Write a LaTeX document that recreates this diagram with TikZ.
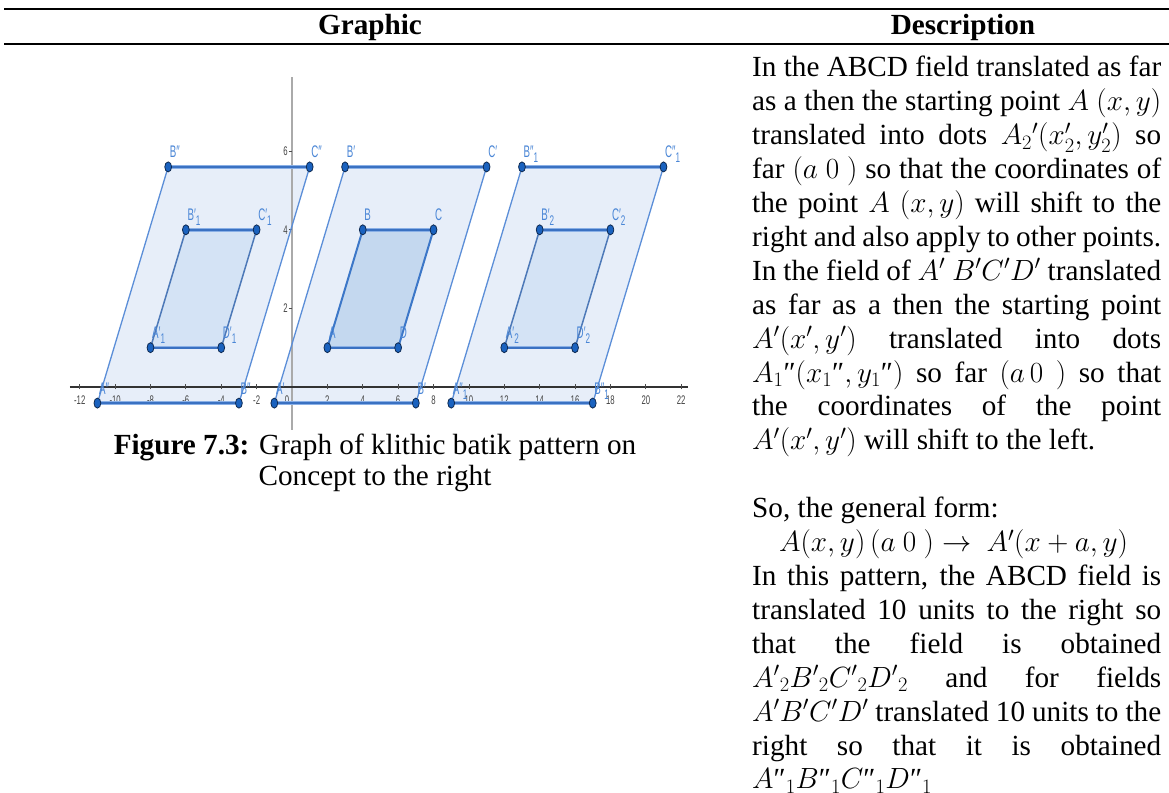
\RequirePackage{fix-cm}
\documentclass[tikz,border=0pt]{standalone}
\usepackage{fontspec}
\setmainfont{Liberation Serif}
\newfontfamily\gsans{Liberation Sans}
\usepackage{graphicx}
\definecolor{bigfill}{HTML}{E7EEF9}
\definecolor{smallfill}{HTML}{D4E3F5}
\definecolor{basefill}{HTML}{C4D8EF}
\definecolor{edgecol}{HTML}{5B8ED8}
\definecolor{edgedark}{HTML}{3C77C8}
\definecolor{segout}{HTML}{8AB0E6}
\definecolor{segin}{HTML}{3A71C2}
\definecolor{dotfill}{HTML}{1A62BF}
\definecolor{dotline}{HTML}{0E2A52}
\definecolor{lblcol}{HTML}{4A86D6}
\definecolor{axisgray}{HTML}{AAAAAA}
\definecolor{tickcol}{HTML}{444444}
\newcommand\glab[2]{\scalebox{0.58}[1]{\gsans\fontsize{16.8}{16.8}\selectfont #1\raisebox{-5pt}{\fontsize{14}{14}\selectfont #2}}}
\newcommand\tlab[1]{\scalebox{0.62}[1]{\gsans\fontsize{12.5}{12.5}\selectfont #1}}
\newcommand\jl[1]{\makebox[409pt][s]{#1}}
\newcommand\dq{\mbox{″}}
\tikzset{
  txt/.style={inner sep=0pt, font=\fontsize{29.2}{33.9}\selectfont, anchor=base west},
  hdr/.style={inner sep=0pt, font=\fontsize{29.2}{33.9}\selectfont\bfseries, anchor=base},
  captxt/.style={inner sep=0pt, font=\fontsize{29.2}{33.9}\selectfont, anchor=base},
  bigpar/.style={fill=bigfill},
  smallpar/.style={fill=smallfill},
  basepar/.style={fill=basefill},
  sedge/.style={draw=edgecol, line width=1.3pt},
  sedgemid/.style={draw=edgecol!85!black, line width=1.5pt},
  sedgebase/.style={draw=edgedark, line width=2pt},
  seg/.style={draw=segout, line width=3.6pt, postaction={draw=segin, line width=1.8pt}},
  gdot/.style={fill=dotfill, draw=dotline, line width=0.8pt},
  glbl/.style={inner sep=0pt, text=lblcol, anchor=base west, xshift=1.5pt, yshift=9pt},
  ticklbl/.style={inner sep=0pt, text=tickcol},
  xaxis/.style={draw=black!80, line width=1.2pt},
  yaxis/.style={draw=axisgray, line width=2pt},
  tickmark/.style={draw=black!70, line width=0.8pt}
}
\begin{document}
\begin{tikzpicture}[x=1pt,y=1pt]
\useasboundingbox (0,0) rectangle (1169,792);
\fill[white] (0,0) rectangle (1169,792);

% table rules
\coordinate (r1a) at (4,783); \coordinate (r1b) at (1169,783);
\coordinate (r2a) at (4,748); \coordinate (r2b) at (1169,748);
\draw[line width=2.2pt] (r1a) -- (r1b);
\draw[line width=1.6pt] (r2a) -- (r2b);

% header
\node[hdr] (hG) at (370,757) {Graphic};
\node[hdr] (hD) at (963,757) {Description};

% description text
\node[txt] (t1)  at (752,715)   {\jl{In the ABCD field translated as far}};
\node[txt] (t2)  at (752,681.1) {\jl{as a then the starting point $A\ (x,y)$}};
\node[txt] (t3)  at (752,647.2) {\jl{translated into dots $A_2{}'(x_2',y_2')$ so}};
\node[txt] (t4)  at (752,613.3) {\jl{far $(a\ 0\ )$ so that the coordinates of}};
\node[txt] (t5)  at (752,579.4) {\jl{the point $A\ (x,y)$ will shift to the}};
\node[txt] (t6)  at (752,545.5) {\jl{right and also apply to other points.}};
\node[txt] (t7)  at (752,511.6) {\jl{In the field of $A'\ B'C'D'$ translated}};
\node[txt] (t8)  at (752,477.7) {\jl{as far as a then the starting point}};
\node[txt] (t9)  at (752,443.8) {\jl{$A'(x',y')$ translated into dots}};
\node[txt] (t10) at (752,409.9) {\jl{$A_1\dq(x_1\dq,y_1\dq)$ so far $(a\,0\ )$ so that}};
\node[txt] (t11) at (752,376)   {\jl{the coordinates of the point}};
\node[txt] (t12) at (752,342.1) {$A'(x',y')$ will shift to the left.};
\node[txt] (t14) at (752,274.3) {So, the general form:};
\node[txt] (t15) at (752,240.4) {\hspace*{27pt}$A(x,y)\,(a\ 0\ )\rightarrow\ A'(x+a,y)$};
\node[txt] (t16) at (752,206.5) {\jl{In this pattern, the ABCD field is}};
\node[txt] (t17) at (752,172.6) {\jl{translated 10 units to the right so}};
\node[txt] (t18) at (752,138.7) {\jl{that the field is obtained}};
\node[txt] (t19) at (752,104.8) {\jl{$A'{}_2B'{}_2C'{}_2D'{}_2$ and for fields}};
\node[txt] (t20) at (752,70.9)  {\jl{$A'B'C'D'$ translated 10 units to the}};
\node[txt] (t21) at (752,37)    {\jl{right so that it is obtained}};
\node[txt] (t22) at (752,3.1)   {$A\dq{}_1B\dq{}_1C\dq{}_1D\dq{}_1$};

% caption
\node[captxt] (c1) at (375,337) {\textbf{Figure 7.3:} Graph of klithic batik pattern on};
\node[captxt] (c2) at (375,306) {Concept to the right};

% graph
\begin{scope}[shift={(292,405)}, x=17.69pt, y=39.3pt]
  \coordinate (Lpa) at (-11,-0.41); \coordinate (Lpb) at (-3,-0.41);
  \coordinate (Lpc) at (1,5.6);     \coordinate (Lpd) at (-7,5.6);
  \coordinate (Mpa) at (-1,-0.41);  \coordinate (Mpb) at (7,-0.41);
  \coordinate (Mpc) at (11,5.6);    \coordinate (Mpd) at (3,5.6);
  \coordinate (Rpa) at (9,-0.41);   \coordinate (Rpb) at (17,-0.41);
  \coordinate (Rpc) at (21,5.6);    \coordinate (Rpd) at (13,5.6);
  \coordinate (Lsa) at (-8,1); \coordinate (Lsb) at (-4,1);
  \coordinate (Lsc) at (-2,4); \coordinate (Lsd) at (-6,4);
  \coordinate (Msa) at (2,1);  \coordinate (Msb) at (6,1);
  \coordinate (Msc) at (8,4);  \coordinate (Msd) at (4,4);
  \coordinate (Rsa) at (12,1); \coordinate (Rsb) at (16,1);
  \coordinate (Rsc) at (18,4); \coordinate (Rsd) at (14,4);

  \fill[bigpar] (Lpa) -- (Lpb) -- (Lpc) -- (Lpd) -- cycle;
  \fill[bigpar] (Mpa) -- (Mpb) -- (Mpc) -- (Mpd) -- cycle;
  \fill[bigpar] (Rpa) -- (Rpb) -- (Rpc) -- (Rpd) -- cycle;
  \fill[smallpar] (Lsa) -- (Lsb) -- (Lsc) -- (Lsd) -- cycle;
  \fill[basepar] (Msa) -- (Msb) -- (Msc) -- (Msd) -- cycle;
  \fill[smallpar] (Rsa) -- (Rsb) -- (Rsc) -- (Rsd) -- cycle;

  \foreach \v in {-12,-10,-8,-6,-4,-2,2,4,6,8,10,12,14,16,18,20,22}
    \node[ticklbl] (xl\v) at (\v,0) [yshift=-13pt] {\tlab{\v}};
  \node[ticklbl] (xl0) at (0,0) [xshift=-5pt, yshift=-13pt] {\tlab{0}};
  \foreach \w in {2,4,6}
    \node[ticklbl, anchor=east] (yl\w) at (0,\w) [xshift=-4pt] {\tlab{\w}};

  \coordinate (xa0) at (-12.55,0); \coordinate (xa1) at (22.39,0);
  \coordinate (ya0) at (0,-1.09);  \coordinate (ya1) at (0,7.89);
  \draw[yaxis] (ya0) -- (ya1);
  \draw[xaxis] (xa0) -- (xa1);
  \foreach \v in {-12,-10,-8,-6,-4,-2,2,4,6,8,10,12,14,16,18,20,22}
    \draw[tickmark] (\v,0) ++(0,-2.5pt) -- ++(0,5pt);
  \foreach \w in {2,4,6}
    \draw[tickmark] (0,\w) ++(-3.5pt,0) -- ++(3.5pt,0);

  \draw[sedge] (Lpa) -- (Lpd); \draw[sedge] (Lpb) -- (Lpc);
  \draw[sedge] (Mpa) -- (Mpd); \draw[sedge] (Mpb) -- (Mpc);
  \draw[sedge] (Rpa) -- (Rpd); \draw[sedge] (Rpb) -- (Rpc);
  \draw[sedgemid] (Lsa) -- (Lsd); \draw[sedgemid] (Lsb) -- (Lsc);
  \draw[sedgemid] (Rsa) -- (Rsd); \draw[sedgemid] (Rsb) -- (Rsc);
  \draw[sedgebase] (Msa) -- (Msd); \draw[sedgebase] (Msb) -- (Msc);

  \draw[seg] (Lpa) -- (Lpb); \draw[seg] (Lpd) -- (Lpc);
  \draw[seg] (Mpa) -- (Mpb); \draw[seg] (Mpd) -- (Mpc);
  \draw[seg] (Rpa) -- (Rpb); \draw[seg] (Rpd) -- (Rpc);
  \draw[seg] (Lsa) -- (Lsb); \draw[seg] (Lsd) -- (Lsc);
  \draw[seg] (Msa) -- (Msb); \draw[seg] (Msd) -- (Msc);
  \draw[seg] (Rsa) -- (Rsb); \draw[seg] (Rsd) -- (Rsc);

  \foreach \p in {Lpa,Lpb,Lpc,Lpd,Mpa,Mpb,Mpc,Mpd,Rpa,Rpb,Rpc,Rpd,Lsa,Lsb,Lsc,Lsd,Msa,Msb,Msc,Msd,Rsa,Rsb,Rsc,Rsd}
    \draw[gdot] (\p) ellipse [x radius=3.4pt, y radius=5pt];

  \node[glbl] (nLpa) at (Lpa) {\glab{A″}{}};
  \node[glbl] (nLpb) at (Lpb) {\glab{B″}{}};
  \node[glbl] (nLpc) at (Lpc) {\glab{C″}{}};
  \node[glbl] (nLpd) at (Lpd) {\glab{B″}{}};
  \node[glbl] (nMpa) at (Mpa) {\glab{A′}{}};
  \node[glbl] (nMpb) at (Mpb) {\glab{B′}{}};
  \node[glbl] (nMpc) at (Mpc) {\glab{C′}{}};
  \node[glbl] (nMpd) at (Mpd) {\glab{B′}{}};
  \node[glbl] (nRpa) at (Rpa) {\glab{A″}{1}};
  \node[glbl] (nRpb) at (Rpb) {\glab{B″}{1}};
  \node[glbl] (nRpc) at (Rpc) {\glab{C″}{1}};
  \node[glbl] (nRpd) at (Rpd) {\glab{B″}{1}};
  \node[glbl] (nLsa) at (Lsa) {\glab{A′}{1}};
  \node[glbl] (nLsb) at (Lsb) {\glab{D′}{1}};
  \node[glbl] (nLsc) at (Lsc) {\glab{C′}{1}};
  \node[glbl] (nLsd) at (Lsd) {\glab{B′}{1}};
  \node[glbl] (nMsa) at (Msa) {\glab{A}{}};
  \node[glbl] (nMsb) at (Msb) {\glab{D}{}};
  \node[glbl] (nMsc) at (Msc) {\glab{C}{}};
  \node[glbl] (nMsd) at (Msd) {\glab{B}{}};
  \node[glbl] (nRsa) at (Rsa) {\glab{A′}{2}};
  \node[glbl] (nRsb) at (Rsb) {\glab{D′}{2}};
  \node[glbl] (nRsc) at (Rsc) {\glab{C′}{2}};
  \node[glbl] (nRsd) at (Rsd) {\glab{B′}{2}};
\end{scope}
\end{tikzpicture}
\end{document}
